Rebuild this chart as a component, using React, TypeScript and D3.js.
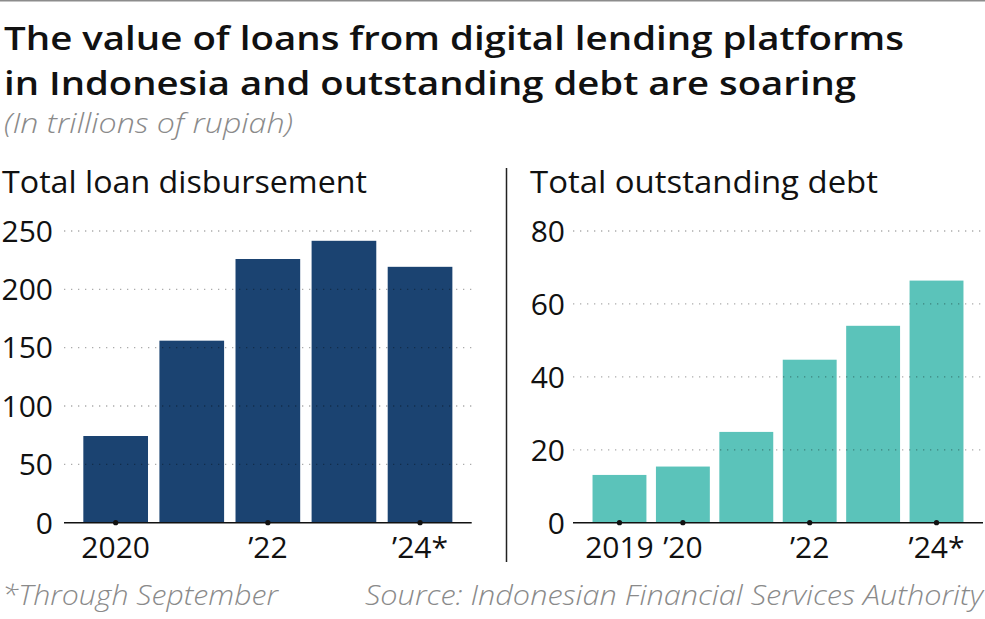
import React from "react";
import * as d3 from "d3";

const loanYears = ["2020", "2021", "2022", "2023", "2024"];
const loanValues = [74.3, 156, 226, 241.6, 219.3];
const loanTickLabels = ["2020", "", "\u201922", "", "\u201924*"];
const loanYTicks = [0, 50, 100, 150, 200, 250];

const debtYears = ["2019", "2020", "2021", "2022", "2023", "2024"];
const debtValues = [13.1, 15.4, 24.9, 44.7, 54.0, 66.4];
const debtTickLabels = ["2019", "\u201920", "", "\u201922", "", "\u201924*"];
const debtYTicks = [0, 20, 40, 60, 80];

const titleLines = [
  "The value of loans from digital lending platforms",
  "in Indonesia and outstanding debt are soaring",
];
const subtitle = "(In trillions of rupiah)";
const leftTitle = "Total loan disbursement";
const rightTitle = "Total outstanding debt";
const footLeft = "*Through September";
const footRight = "Source: Indonesian Financial Services Authority";

const W = 985;
const H = 619;
const FONT = "'Open Sans', Lato, sans-serif";
const NUMFONT = "'Open Sans', Lato, sans-serif";
const NAVY = "#1b4371";
const TEAL = "#5bc3ba";

type PanelProps = {
  cats: string[];
  values: number[];
  tickLabels: string[];
  yTicks: number[];
  yMax: number;
  x0: number;
  x1: number;
  labelRight: number;
  paddingOuter: number;
  color: string;
};

function Panel(p: PanelProps) {
  const y = d3.scaleLinear().domain([0, p.yMax]).range([522.7, 231]);
  const x = d3
    .scaleBand<string>()
    .domain(p.cats)
    .range([p.x0, p.x1])
    .paddingInner(0.15)
    .paddingOuter(p.paddingOuter);
  return (
    <g>
      {p.cats.map((c, i) => (
        <rect
          key={c}
          x={x(c)}
          y={y(p.values[i])}
          width={x.bandwidth()}
          height={y(0) - y(p.values[i])}
          fill={p.color}
        />
      ))}
      {p.yTicks.map((t) => (
        <g key={t}>
          {t > 0 && (
            <line
              x1={p.x0}
              x2={p.x1}
              y1={y(t)}
              y2={y(t)}
              stroke="#000"
              strokeOpacity={0.33}
              strokeWidth={1.3}
              strokeDasharray="1.3 5.7"
            />
          )}
          <text
            x={p.labelRight}
            y={y(t)}
            dy="0.36em"
            textAnchor="end"
            fontFamily={NUMFONT}
            fontSize={30}
            fill="#111"
          >
            {t}
          </text>
        </g>
      ))}
      <line x1={p.x0} x2={p.x1} y1={y(0)} y2={y(0)} stroke="#111" strokeWidth={1.5} />
      {p.cats.map((c, i) =>
        p.tickLabels[i] ? (
          <g key={"t" + c}>
            <circle cx={(x(c) as number) + x.bandwidth() / 2} cy={y(0)} r={2.6} fill="#111" />
            <text
              x={(x(c) as number) + x.bandwidth() / 2}
              y={558}
              textAnchor="middle"
              fontFamily={NUMFONT}
              fontSize={30}
              fill="#111"
            >
              {p.tickLabels[i]}
            </text>
          </g>
        ) : null
      )}
    </g>
  );
}

export default function App() {
  return (
    <svg
      width={W}
      height={H}
      style={{ position: "absolute", left: 0, top: 0, background: "#fff" }}
    >
      <rect x={0} y={0} width={W} height={H} fill="#fff" />
      <line x1={0} x2={W} y1={0.75} y2={0.75} stroke="#8c8c8c" strokeWidth={1.5} />
      {titleLines.map((t, i) => (
        <text
          key={i}
          x={4}
          y={50 + i * 45}
          fontFamily={FONT}
          fontWeight={600}
          fontSize={32}
          fill="#111"
          textLength={i === 0 ? 900 : 852}
          lengthAdjust="spacingAndGlyphs"
        >
          {t}
        </text>
      ))}
      <text
        x={4}
        y={133}
        fontFamily={FONT}
        fontWeight={300}
        fontStyle="italic"
        fontSize={27}
        fill="#8a8a8a"
        textLength={289}
        lengthAdjust="spacingAndGlyphs"
      >
        {subtitle}
      </text>
      <text
        x={2}
        y={193}
        fontFamily={FONT}
        fontSize={31}
        fill="#111"
        textLength={365}
        lengthAdjust="spacingAndGlyphs"
      >
        {leftTitle}
      </text>
      <text
        x={530}
        y={193}
        fontFamily={FONT}
        fontSize={31}
        fill="#111"
        textLength={348}
        lengthAdjust="spacingAndGlyphs"
      >
        {rightTitle}
      </text>
      <line x1={506.5} x2={506.5} y1={168} y2={562} stroke="#222" strokeWidth={1.5} />
      <Panel
        cats={loanYears}
        values={loanValues}
        tickLabels={loanTickLabels}
        yTicks={loanYTicks}
        yMax={250}
        x0={64}
        x1={471.7}
        labelRight={53}
        paddingOuter={0.254}
        color={NAVY}
      />
      <Panel
        cats={debtYears}
        values={debtValues}
        tickLabels={debtTickLabels}
        yTicks={debtYTicks}
        yMax={80}
        x0={573}
        x1={983}
        labelRight={565}
        paddingOuter={0.308}
        color={TEAL}
      />
      <text
        x={2}
        y={605}
        fontFamily={FONT}
        fontWeight={300}
        fontStyle="italic"
        fontSize={28}
        fill="#8a8a8a"
        textLength={276}
        lengthAdjust="spacingAndGlyphs"
      >
        {footLeft}
      </text>
      <text
        x={365}
        y={605}
        fontFamily={FONT}
        fontWeight={300}
        fontStyle="italic"
        fontSize={28}
        fill="#8a8a8a"
        textLength={618}
        lengthAdjust="spacingAndGlyphs"
      >
        {footRight}
      </text>
    </svg>
  );
}
